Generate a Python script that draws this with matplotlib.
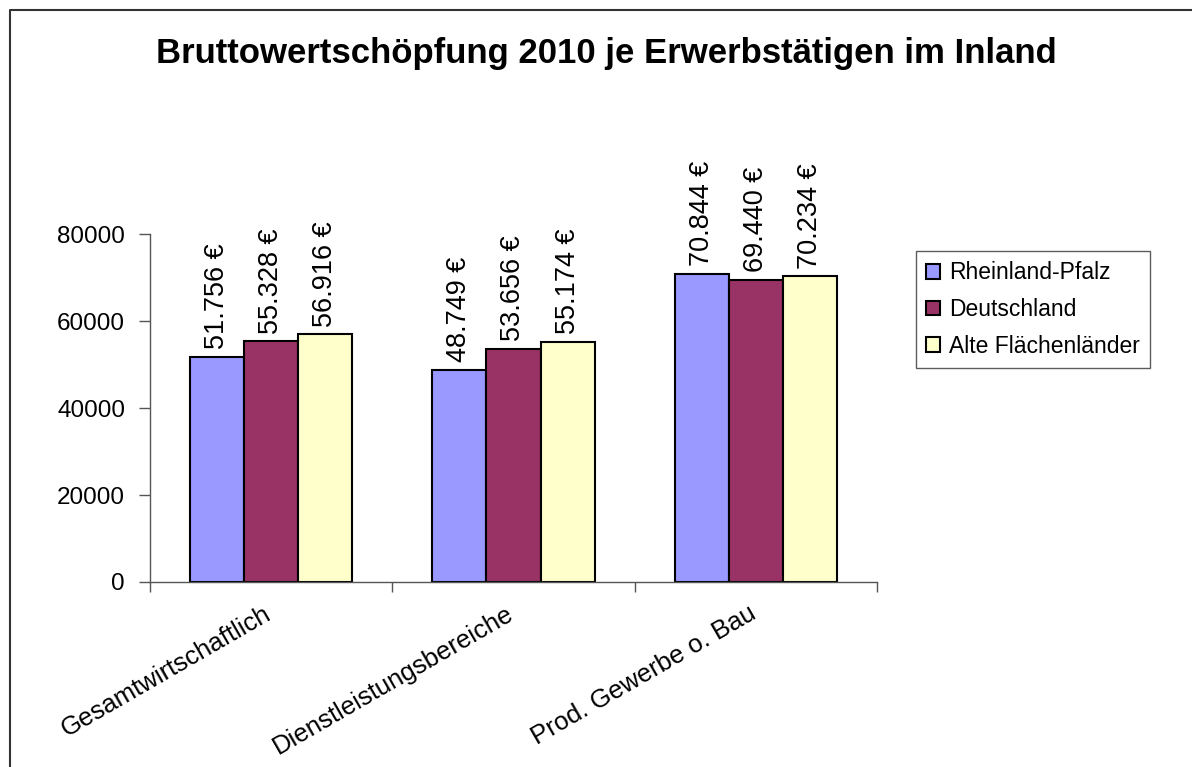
import numpy as np
import matplotlib
matplotlib.use('Agg')
import matplotlib.pyplot as plt
import matplotlib.transforms as mtransforms
from matplotlib.lines import Line2D

plt.rcParams['font.family'] = ['Liberation Sans', 'DejaVu Sans']

# Data
categories = ['Gesamtwirtschaftlich', 'Dienstleistungsbereiche', 'Prod. Gewerbe o. Bau']
series = ['Rheinland-Pfalz', 'Deutschland', 'Alte Flächenländer']
rlp = [51756, 48749, 70844]
de = [55328, 53656, 69440]
alte = [56916, 55174, 70234]
colors = ['#9999FF', '#993366', '#FFFFCC']
y_ticks = [0, 20000, 40000, 60000, 80000]

fig = plt.figure(figsize=(11.92, 7.67), dpi=100)
ax = fig.add_axes([150/1192, 1 - 582/767, 727/1192, 348/767])

# chart frame (only left and top visible in the crop)
fig.add_artist(Line2D([10/1192, 10/1192, 1.0], [0.0, 1 - 10/767, 1 - 10/767],
                      transform=fig.transFigure, color='#333333', lw=1.5))

x = np.arange(len(categories))
w = 0.223
for i, (vals, name, c) in enumerate(zip([rlp, de, alte], series, colors)):
    bars = ax.bar(x + (i - 1) * w, vals, w, color=c, edgecolor='black',
                  linewidth=1.5, label=name)
    labels = [f'{v:,.0f}'.replace(',', '.') + ' €' for v in vals]
    ax.bar_label(bars, labels=labels, rotation=90, padding=5.5, fontsize=19.5)

ax.set_xlim(-0.5, 2.5)
ax.set_ylim(0, 80000)
ax.set_yticks(y_ticks)
ax.tick_params(axis='y', labelsize=17.5, length=8, width=1, color='#555555', pad=10)

ax.set_xticks([-0.5, 0.5, 1.5, 2.5])
ax.set_xticklabels([])
ax.set_xticks(x, minor=True)
ax.set_xticklabels(categories, minor=True, rotation=30, ha='right',
                   rotation_mode='anchor', fontsize=18.5)
ax.tick_params(axis='x', which='major', length=7, width=1, color='#555555')
ax.tick_params(axis='x', which='minor', length=0, pad=14)
# Excel puts the right end of the rotated labels a bit left of the category centre
shift = mtransforms.ScaledTranslation(-8/100, 0, fig.dpi_scale_trans)
for lab in ax.get_xticklabels(minor=True):
    lab.set_transform(lab.get_transform() + shift)

for s in ['top', 'right']:
    ax.spines[s].set_visible(False)
for s in ['left', 'bottom']:
    ax.spines[s].set_color('#555555')
    ax.spines[s].set_linewidth(1)

fig.text(606/1192, 1 - 63/767, 'Bruttowertschöpfung 2010 je Erwerbstätigen im Inland',
         ha='center', va='baseline', fontsize=25, fontweight='bold')

leg = ax.legend(loc='upper left', bbox_to_anchor=(916/1192, 1 - 251/767),
                bbox_transform=fig.transFigure, fontsize=16.5, frameon=True,
                fancybox=False, shadow=False, handlelength=0.6, handleheight=0.6,
                handletextpad=0.4, labelspacing=0.6, borderpad=0.45,
                borderaxespad=0)
leg.get_frame().set_edgecolor('#333333')
leg.get_frame().set_linewidth(1)

plt.savefig('out.png', dpi=100)
